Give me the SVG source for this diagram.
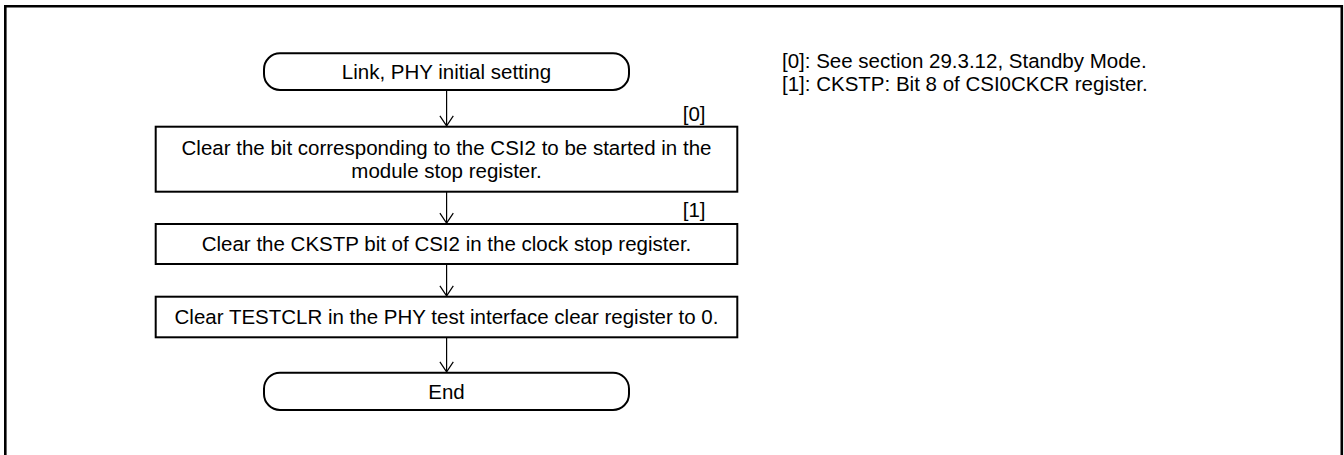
<svg xmlns="http://www.w3.org/2000/svg" width="1344" height="455" viewBox="0 0 1344 455">
  <style>
    .frame { fill: none; stroke: #000; stroke-width: 2.6; }
    .box { fill: #fff; stroke: #000; stroke-width: 2; }
    .conn { fill: none; stroke: #000; stroke-width: 1.2; }
    .t { font-family: "Liberation Sans", Arial, sans-serif; font-size: 20.5px; fill: #000; }
    .c { text-anchor: middle; }
    .r { text-anchor: end; }
  </style>
  <defs>
    <marker id="arr" markerUnits="userSpaceOnUse" viewBox="-2 -2 14 17.4" markerWidth="14" markerHeight="17.4" refX="10" refY="6.7" orient="auto">
      <path d="M0,0 L10,6.7 L0,13.4" fill="none" stroke="#000" stroke-width="1.2"/>
    </marker>
  </defs>
  <rect width="1344" height="455" fill="#fff"/>
  <path class="frame" d="M5.3,460 V6.3 H1341.8 V460"/>

  <g id="connectors">
    <line class="conn" x1="446.6" y1="90" x2="446.6" y2="125.8" marker-end="url(#arr)"/>
    <line class="conn" x1="446.6" y1="191.7" x2="446.6" y2="223.1" marker-end="url(#arr)"/>
    <line class="conn" x1="446.6" y1="264" x2="446.6" y2="295.8" marker-end="url(#arr)"/>
    <line class="conn" x1="446.6" y1="337.3" x2="446.6" y2="371.8" marker-end="url(#arr)"/>
  </g>

  <g id="start">
    <rect class="box" x="264" y="53.3" width="365" height="36.7" rx="16" ry="16"/>
    <text class="t c" x="446.5" y="78.8">Link, PHY initial setting</text>
  </g>

  <g id="step1">
    <rect class="box" x="155.7" y="126.7" width="581.6" height="65"/>
    <text class="t c" x="446.5" y="154.6">Clear the bit corresponding to the CSI2 to be started in the</text>
    <text class="t c" x="446.5" y="178">module stop register.</text>
  </g>
  <text class="t r" x="705.5" y="121">[0]</text>

  <g id="step2">
    <rect class="box" x="155.7" y="224" width="581.6" height="40"/>
    <text class="t c" x="446.5" y="251.3">Clear the CKSTP bit of CSI2 in the clock stop register.</text>
  </g>
  <text class="t r" x="705.5" y="216.7">[1]</text>

  <g id="step3">
    <rect class="box" x="155.7" y="296.7" width="581.6" height="40.6"/>
    <text class="t c" x="446.5" y="324.3">Clear TESTCLR in the PHY test interface clear register to 0.</text>
  </g>

  <g id="end">
    <rect class="box" x="264" y="372.7" width="365" height="37.3" rx="16" ry="16"/>
    <text class="t c" x="446.5" y="398.6">End</text>
  </g>

  <g id="notes">
    <text class="t" x="782" y="67.7">[0]: See section 29.3.12, Standby Mode.</text>
    <text class="t" x="782" y="91">[1]: CKSTP: Bit 8 of CSI0CKCR register.</text>
  </g>
</svg>
